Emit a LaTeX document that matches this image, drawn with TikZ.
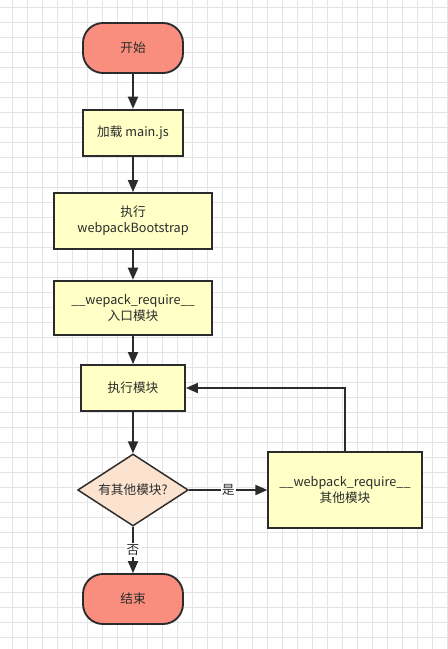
\documentclass[tikz,border=0pt]{standalone}
\usepackage{fontspec}
\setmainfont{Noto Sans CJK SC}
\usetikzlibrary{arrows.meta, shapes.geometric}

\definecolor{salmon}{HTML}{F98E7E}
\definecolor{paleyellow}{HTML}{FFFFC6}
\definecolor{peach}{HTML}{FCE3D0}
\definecolor{linegray}{HTML}{2B2B2B}
\definecolor{gridgray}{HTML}{E4E4E4}

\begin{document}
\begin{tikzpicture}[
    x=0.75pt, y=-0.75pt,
    font=\fontsize{9.5pt}{12pt}\selectfont,
    terminal/.style={rectangle, draw=linegray, line width=1.4pt, fill=salmon, rounded corners=15pt, minimum width=75pt, minimum height=37.5pt, align=center, text=linegray},
    process/.style={rectangle, draw=linegray, line width=1.4pt, fill=paleyellow, align=center, text=linegray},
    decision/.style={diamond, draw=linegray, line width=1.1pt, fill=peach, inner sep=0pt, shape aspect=1.5, minimum width=83pt, minimum height=54pt, align=center, text=linegray},
    arrow/.style={-{Triangle[length=9pt, width=7.5pt]}, line width=1.4pt, draw=linegray},
    tag/.style={fill=white, inner sep=1pt, text=linegray},
    grid/.style={draw=gridgray, line width=0.5pt}
]

\useasboundingbox (0,0) rectangle (447,649);
\fill[white] (0,0) rectangle (447,649);

% background grid
\foreach \gx in {12,27,...,447}
    \draw[grid] (\gx,0) -- (\gx,649);
\foreach \gy in {7,22,...,649}
    \draw[grid] (0,\gy) -- (447,\gy);

\node[terminal] (start) at (133,48) {开始};

\node[process, minimum width=75pt, minimum height=35pt] (load) at (133,133)
{加载 main.js};

\node[process, minimum width=118.5pt, minimum height=42pt] (boot) at (133,221)
{执行\\webpackBootstrap};

\node[process, minimum width=118.5pt, minimum height=41pt] (entry) at (133,308)
{\_\_wepack\_require\_\_\\入口模块};

\node[process, minimum width=78pt, minimum height=34.5pt] (exec) at (133,388)
{执行模块};

\node[decision] (more) at (133,490) {有其他模块?};

\node[process, minimum width=115pt, minimum height=57pt] (other) at (345,490)
{\_\_webpack\_require\_\_\\其他模块};

\node[terminal] (end) at (133,599) {结束};

\draw[arrow] (start) -- (load);
\draw[arrow] (load) -- (boot);
\draw[arrow] (boot) -- (entry);
\draw[arrow] (entry) -- (exec);
\draw[arrow] (exec) -- (more);

\draw[arrow] (more) -- node[tag, midway]{是} (other);
\draw[arrow] (more) -- node[tag, midway]{否} (end);

\draw[arrow] (other.north) |- (exec.east);

\end{tikzpicture}
\end{document}
